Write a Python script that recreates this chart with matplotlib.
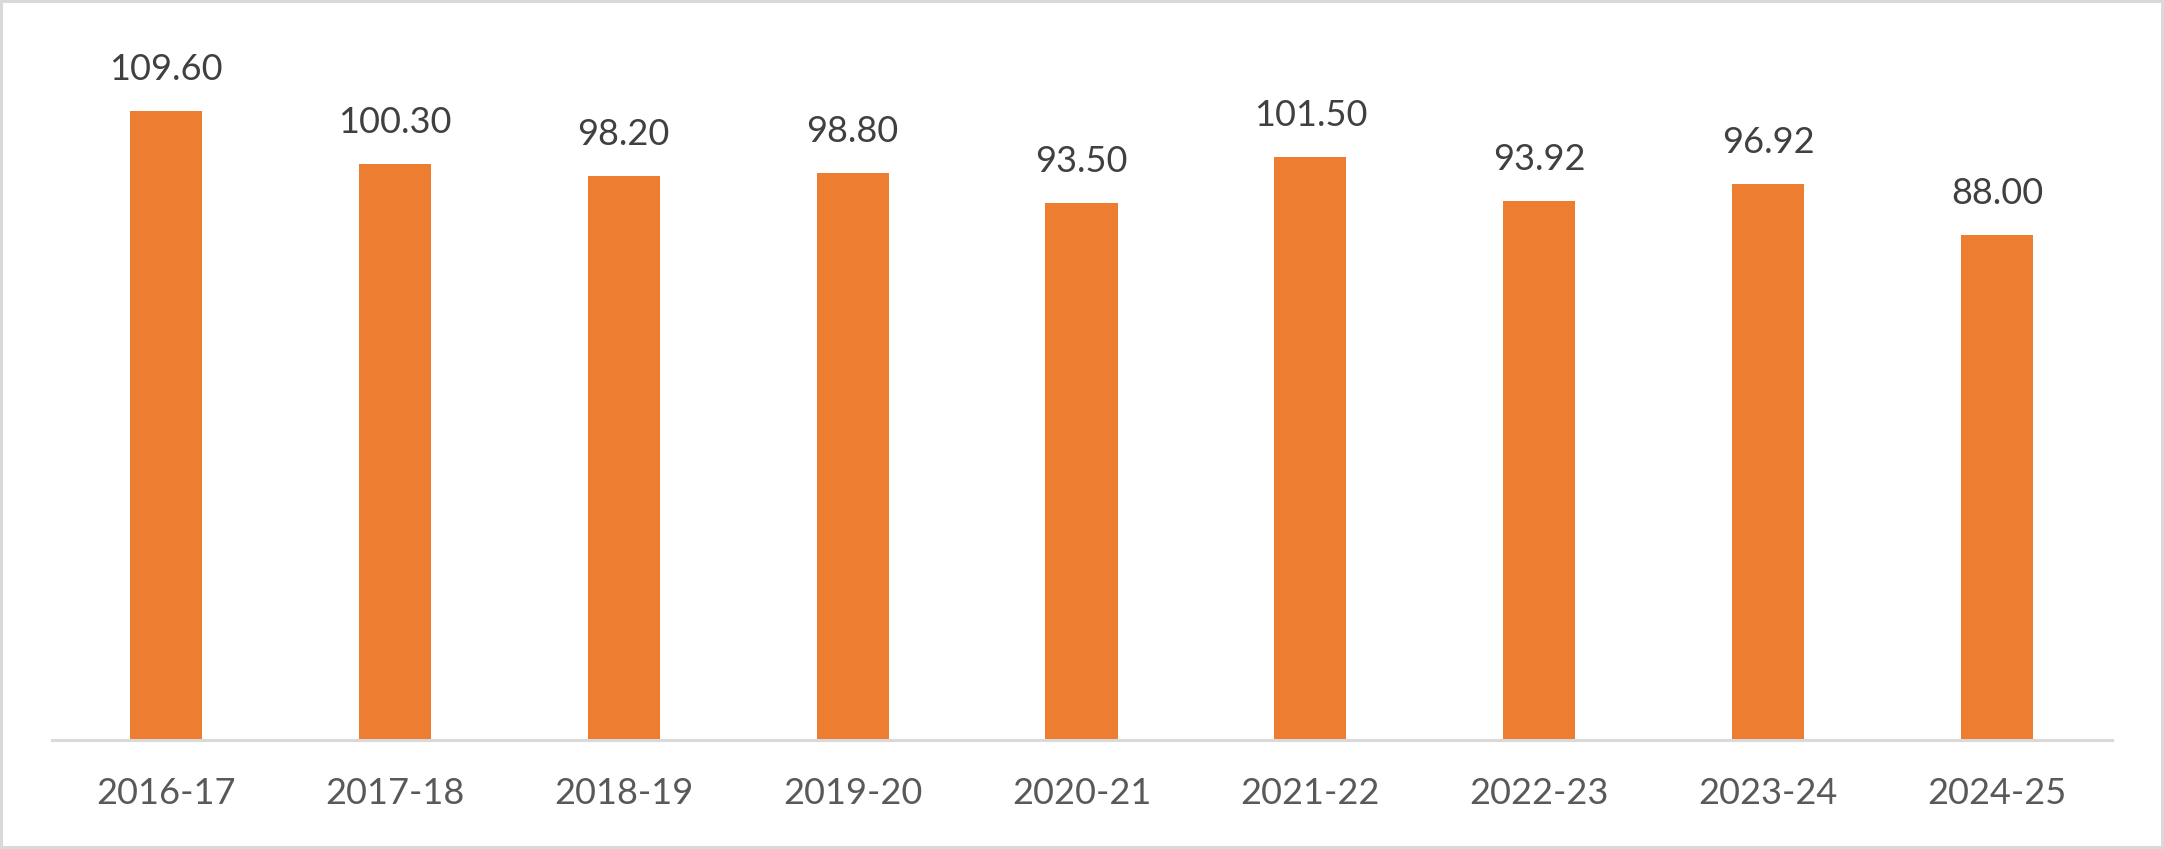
import matplotlib
matplotlib.use('Agg')
from matplotlib import pyplot as plt
from matplotlib.patches import Rectangle

years = ['2016-17', '2017-18', '2018-19', '2019-20', '2020-21',
         '2021-22', '2022-23', '2023-24', '2024-25']
values = [109.60, 100.30, 98.20, 98.80, 93.50, 101.50, 93.92, 96.92, 88.00]

plt.rcParams['font.family'] = ['Lato', 'DejaVu Sans']

W, H = 2164, 849
fig = plt.figure(figsize=(W / 100, H / 100), dpi=100)
fig.patch.set_facecolor('white')

# plot area in pixels: x 51.5..2111.5, baseline at y=740, top at y=51
ax = fig.add_axes([51.5 / W, (H - 740) / H, 2060 / W, 689 / H])

x = range(len(years))
bars = ax.bar(x, values, width=0.315, color='#ED7D31', zorder=2)
ax.bar_label(bars, labels=[f'{v:.2f}' for v in values], padding=18,
             fontsize=26, color='#404040')

ax.set_xlim(-0.5, len(years) - 0.5)
ax.set_ylim(0, 120)
ax.set_xticks(list(x))
ax.set_xticklabels(years, fontsize=26, color='#595959')
ax.tick_params(axis='x', length=0, pad=27)
ax.set_yticks([])

for side in ['top', 'left', 'right']:
    ax.spines[side].set_visible(False)
ax.spines['bottom'].set_color('#D9D9D9')
ax.spines['bottom'].set_linewidth(2.2)

# outer chart frame
fig.add_artist(Rectangle((0, 0), 1, 1, transform=fig.transFigure, fill=False,
                         edgecolor='#D9D9D9', linewidth=4.3))

fig.savefig('out.png', dpi=100)
